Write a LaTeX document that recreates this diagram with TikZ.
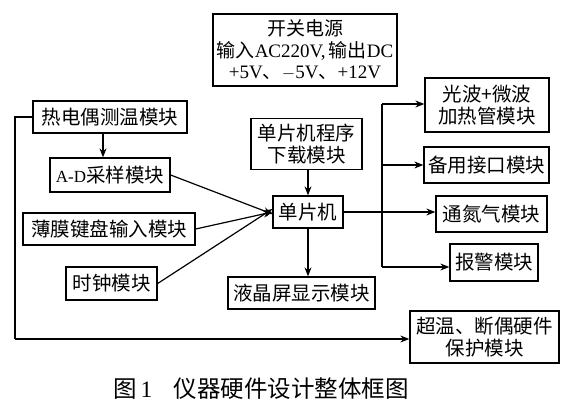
\documentclass[tikz,border=0pt]{standalone}
\usepackage{fontspec}
\setmainfont{Liberation Serif}
\newfontfamily\cjk{Noto Sans CJK SC}
\usetikzlibrary{arrows.meta}
\tikzset{
  blk/.style={draw, line width=1.3pt, inner sep=0pt, align=center,
    font=\cjk\fontsize{19.5}{22}\selectfont},
  conn/.style={line width=1.2pt, -{Stealth[length=9pt,width=7pt]}},
  plain/.style={line width=1.2pt}
}
\begin{document}
\begin{tikzpicture}[x=1pt,y=-1pt]
\useasboundingbox (0,0) rectangle (570,418);
\node[blk, minimum width=184pt, minimum height=72pt, font=\fontsize{19}{21.5}\selectfont] (pwr) at (305,50)
  {{\cjk 开关电源}\\{\cjk 输入}AC220V,\,{\cjk 输出}DC\\+5V{\cjk 、}$-$5V{\cjk 、}+12V};
\node[blk, minimum width=154pt, minimum height=32pt] (tc) at (110,117) {热电偶测温模块};
\node[blk, minimum width=120pt, minimum height=34pt] (ad) at (110,175) {{\rmfamily\fontsize{17}{20}\selectfont A-D}采样模块};
\node[blk, minimum width=172pt, minimum height=32pt] (kb) at (109,229) {薄膜键盘输入模块};
\node[blk, minimum width=91pt, minimum height=33pt] (clk) at (111.5,283.5) {时钟模块};
\node[blk, minimum width=111pt, minimum height=51pt] (dl) at (306.5,144) {单片机程序\\下载模块};
\node[blk, minimum width=70pt, minimum height=32pt] (mcu) at (308,212) {单片机};
\node[blk, minimum width=147pt, minimum height=32pt] (lcd) at (301.5,293) {液晶屏显示模块};
\node[blk, minimum width=124pt, minimum height=54pt] (heat) at (487,105) {光波+微波\\加热管模块};
\node[blk, minimum width=125pt, minimum height=36pt] (spare) at (486.5,165) {备用接口模块};
\node[blk, minimum width=111pt, minimum height=36pt] (n2) at (491.5,214) {通氮气模块};
\node[blk, minimum width=88pt, minimum height=37pt] (alarm) at (494,262.5) {报警模块};
\node[blk, minimum width=149pt, minimum height=52pt] (prot) at (484.5,337) {超温、断偶硬件\\保护模块};
\node[anchor=west, inner sep=0pt, font=\cjk\fontsize{23.5}{26}\selectfont] (cap) at (113,389) {图\,{\rmfamily 1}\hspace{0.9em}仪器硬件设计整体框图};
% connectors
\draw[conn] (tc.south -| ad.north) ++(-7,0) coordinate (t1) -- (t1 |- ad.north);
\draw[conn] (ad.east) -- ([yshift=-2pt]mcu.west);
\draw[conn] (kb.east) -- (mcu.west);
\draw[conn] (clk.east) -- ([yshift=3pt]mcu.west);
\draw[conn] (dl.south -| mcu.north) -- (mcu.north);
\draw[conn] (mcu.south) -- (mcu.south |- lcd.north);
\draw[conn] (mcu.east) -- (mcu.east -| n2.west);
\coordinate (bt) at (382,104);
\coordinate (bb) at (382,267);
\draw[plain] (bt) -- (bb);
\draw[conn] (bt) -- (bt -| heat.west);
\draw[conn] (bt |- spare.west) -- (spare.west);
\draw[conn] (bb) -- (bb -| alarm.west);
\coordinate (l1) at (15,117);
\coordinate (l2) at (15,339);
\draw[plain] (tc.west) -- (l1) -- (l2);
\draw[conn] (l2) -- (l2 -| prot.west);
\end{tikzpicture}
\end{document}
